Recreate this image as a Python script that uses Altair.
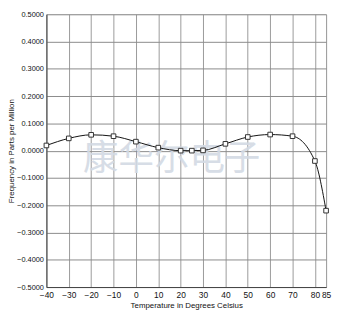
import altair as alt
import pandas as pd

temps = [-40, -30, -20, -10, 0, 10, 20, 25, 30, 40, 50, 60, 70, 80, 85]
ppm = [0.019, 0.045, 0.058, 0.053, 0.033, 0.011, 0.0, 0.0, 0.001, 0.025, 0.050, 0.059, 0.053, -0.038, -0.22]
x_ticks = [-40, -30, -20, -10, 0, 10, 20, 30, 40, 50, 60, 70, 80, 85]
y_ticks = [0.5, 0.4, 0.3, 0.2, 0.1, 0.0, -0.1, -0.2, -0.3, -0.4, -0.5]
watermark = ["康华尔电子"]
wm_x = [16]
wm_y = [-0.03]

df = pd.DataFrame({"t": temps, "f": ppm})
wm = pd.DataFrame({"txt": watermark, "t": wm_x, "f": wm_y})

FONT = "Liberation Sans"

xs = alt.Scale(domain=[-40, 85], nice=False, zero=False)
ys = alt.Scale(domain=[-0.5, 0.5], nice=False)

xax = alt.Axis(values=x_ticks, title="Temperature in Degrees Celsius", labelFont=FONT,
               labelFontSize=8.5, labelColor="#111", titleFont=FONT, titleFontSize=8,
               titleFontWeight="normal", titleColor="#111", grid=True, gridColor="#9a9a9a",
               gridWidth=1, domainColor="#444", tickSize=0, labelPadding=4, titlePadding=2,
               labelOverlap=False, labelFlush=False)
yax = alt.Axis(values=y_ticks, format=".4f", title="Frequency in Parts per Million",
               labelFont=FONT, labelFontSize=7.5, labelColor="#111", titleFont=FONT,
               titleFontSize=8, titleFontWeight="normal", titleColor="#111", grid=True,
               gridColor="#8a8a8a", gridWidth=1, domainColor="#444", tickSize=0,
               labelPadding=3, titlePadding=1, labelOverlap=False, labelFlush=False)

X = alt.X("t:Q", scale=xs, axis=xax)
Y = alt.Y("f:Q", scale=ys, axis=yax)

wmark = alt.Chart(wm).mark_text(font="Noto Sans CJK SC", fontSize=36, color="#d3dae4",
                                opacity=0.9).encode(x=X, y=Y, text="txt:N")

line = alt.Chart(df).mark_line(color="#111", strokeWidth=1, interpolate="monotone").encode(x=X, y=Y)
pts = alt.Chart(df).mark_point(shape="square", size=22, filled=True, fill="white",
                               stroke="#333", strokeWidth=1, opacity=1).encode(x=X, y=Y)

chart = alt.layer(wmark, line, pts).properties(
    width=284, height=277,
    autosize=alt.AutoSizeParams(type="none"),
    padding={"left": 39, "top": 4, "right": 6, "bottom": 24},
).configure_view(stroke="#444", strokeWidth=1).configure(background="white")

chart.save("out.html", embed_options={"renderer": "svg", "actions": False})
